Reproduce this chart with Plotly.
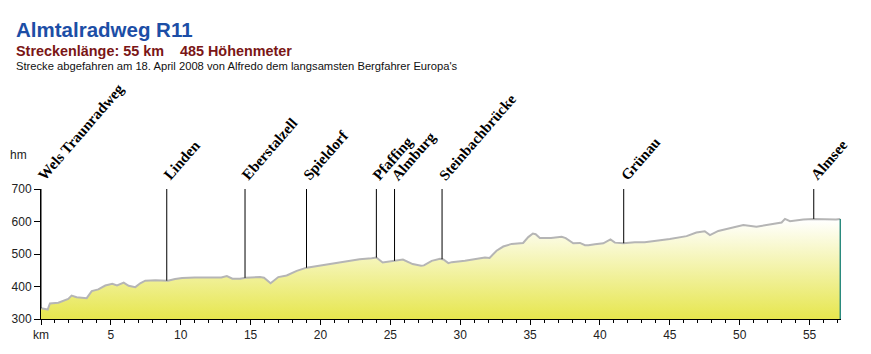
import numpy as np
import plotly.graph_objects as go

# Elevation profile (km, m)
profile_km = [0, 0.3, 0.48, 0.64, 1.24, 1.95, 2.19, 2.55, 3.03, 3.27, 3.63, 4.1, 4.6, 5.1, 5.44,
              5.92, 6.27, 6.75, 7.1, 7.46, 8.18, 8.66, 9.08, 9.6, 10.1, 11.0, 12.0, 12.9, 13.3,
              13.7, 14.24, 14.65, 15.67, 15.96, 16.43, 16.98, 17.58, 18.3, 19.01, 19.96, 20.9,
              21.9, 22.8, 23.66, 24.0, 24.45, 25.3, 25.9, 26.6, 27.2, 27.4, 27.96, 28.55, 28.8,
              29.15, 29.39, 30.34, 31.3, 31.77, 32.1, 32.6, 33.08, 33.68, 34.5, 34.87, 35.2,
              35.4, 35.7, 36.5, 37.26, 37.55, 38.09, 38.57, 38.93, 39.17, 39.64, 40.24, 40.75,
              41.07, 41.67, 42.5, 43.2, 43.82, 45.0, 46.2, 46.9, 47.5, 47.87, 48.47, 49.3,
              50.26, 51.2, 52.2, 53.0, 53.24, 53.6, 54.55, 55.26, 56.9, 57.2]
profile_elev = [333, 330, 329, 348, 350, 362, 372, 367, 365, 364, 386, 391, 403, 408, 403,
                412, 402, 398, 410, 418, 419, 418, 418, 423, 426, 428, 428, 428, 432,
                424, 424, 427, 429, 427, 410, 429, 434, 448, 458, 464, 470,
                477, 484, 487, 489, 474, 479, 483, 469, 464, 465, 479, 485, 483,
                472, 475, 479, 485, 489, 488, 510, 523, 531, 534, 552, 563,
                561, 549, 549, 553, 549, 533, 534, 527, 527, 530, 533, 545,
                535, 533, 536, 536, 539, 546, 555, 566, 570, 558, 571, 579,
                589, 584, 590, 597, 608, 601, 606, 608, 606, 608]

# Place markers
place_names = ["Wels Traunradweg", "Linden", "Eberstalzell", "Spieldorf", "Pfaffing",
               "Almburg", "Steinbachbrücke", "Grünau", "Almsee"]
place_km = [0.0, 9.0, 14.6, 19.0, 24.0, 25.3, 28.7, 41.7, 55.3]

# Axis ticks
y_ticks = [300, 400, 500, 600, 700]
x_tickvals = [0, 5, 10, 15, 20, 25, 30, 35, 40, 45, 50, 55]
x_ticktext = ["km", "5", "10", "15", "20", "25", "30", "35", "40", "45", "50", "55"]

Y_MIN, Y_MAX = 300, 700
X_MAX = 57.25

fig = go.Figure()

# gradient fill
fig.add_trace(go.Scatter(
    x=profile_km, y=profile_elev, mode="lines", line=dict(width=0, color="rgba(0,0,0,0)"),
    fill="tozeroy",
    fillgradient=dict(type="vertical", start=Y_MIN, stop=612,
                      colorscale=[[0, "#e4e43e"], [1, "#ffffff"]]),
    hoverinfo="skip", showlegend=False))

# profile line
fig.add_trace(go.Scatter(
    x=profile_km, y=profile_elev, mode="lines",
    line=dict(color="#b5b5b5", width=2), hoverinfo="skip", showlegend=False))

# right edge teal line
fig.add_trace(go.Scatter(
    x=[profile_km[-1], profile_km[-1]], y=[profile_elev[-1], Y_MIN], mode="lines",
    line=dict(color="#2a8a7e", width=1.5), hoverinfo="skip", showlegend=False))

# marker lines
mx, my = [], []
for k in place_km:
    e = float(np.interp(k, profile_km, profile_elev))
    mx += [k, k, None]
    my += [e, Y_MAX, None]
fig.add_trace(go.Scatter(x=mx, y=my, mode="lines", line=dict(color="black", width=1),
                         hoverinfo="skip", showlegend=False))

annotations = []
for name, k in zip(place_names, place_km):
    annotations.append(dict(
        x=k, y=Y_MAX, xref="x", yref="y", text="<b>" + name + "</b>", showarrow=False,
        textangle=-49, xanchor="left", yanchor="bottom", xshift=-9, yshift=3,
        font=dict(family="Liberation Serif", size=15, color="black")))

L, T = 41, 189
W, H = 800, 139

def px(xp):
    return (xp - L) / W

def py(yp):
    return (T + H - yp) / H

annotations += [
    dict(x=px(14), y=py(18), xref="paper", yref="paper", xanchor="left", yanchor="middle",
         text="<b>Almtalradweg R11</b>", showarrow=False,
         font=dict(family="Liberation Sans", size=20.5, color="#1c4ea6")),
    dict(x=px(14), y=py(41.5), xref="paper", yref="paper", xanchor="left", yanchor="middle",
         text="<b>Streckenlänge: 55 km    485 Höhenmeter</b>", showarrow=False,
         font=dict(family="Liberation Sans", size=14.4, color="#7a1616")),
    dict(x=px(14), y=py(57.5), xref="paper", yref="paper", xanchor="left", yanchor="middle",
         text="Strecke abgefahren am 18. April 2008 von Alfredo dem langsamsten Bergfahrer Europa's",
         showarrow=False, font=dict(family="Liberation Sans", size=11.2, color="#111111")),
    dict(x=px(8), y=py(153), xref="paper", yref="paper", xanchor="left", yanchor="middle",
         text="hm", showarrow=False,
         font=dict(family="Liberation Sans", size=12, color="#222222")),
]

fig.update_layout(
    width=871, height=354,
    margin=dict(l=L, r=871 - L - W, t=T, b=354 - T - H, pad=0),
    paper_bgcolor="white", plot_bgcolor="white",
    annotations=annotations,
    xaxis=dict(range=[0, X_MAX], showgrid=False, zeroline=False, showline=True,
               linecolor="black", linewidth=1, ticks="outside", ticklen=5, tickcolor="black",
               tickvals=x_tickvals, ticktext=x_ticktext,
               minor=dict(dtick=1, tick0=0, ticks="outside", ticklen=3, tickcolor="black"),
               tickfont=dict(family="Liberation Sans", size=12, color="#222222")),
    yaxis=dict(range=[Y_MIN, Y_MAX], showgrid=False, zeroline=False, showline=True,
               linecolor="black", linewidth=1, ticks="outside", ticklen=6, tickcolor="black",
               tickvals=y_ticks,
               tickfont=dict(family="Liberation Sans", size=12, color="#222222")),
)

fig.write_html("out.html")
